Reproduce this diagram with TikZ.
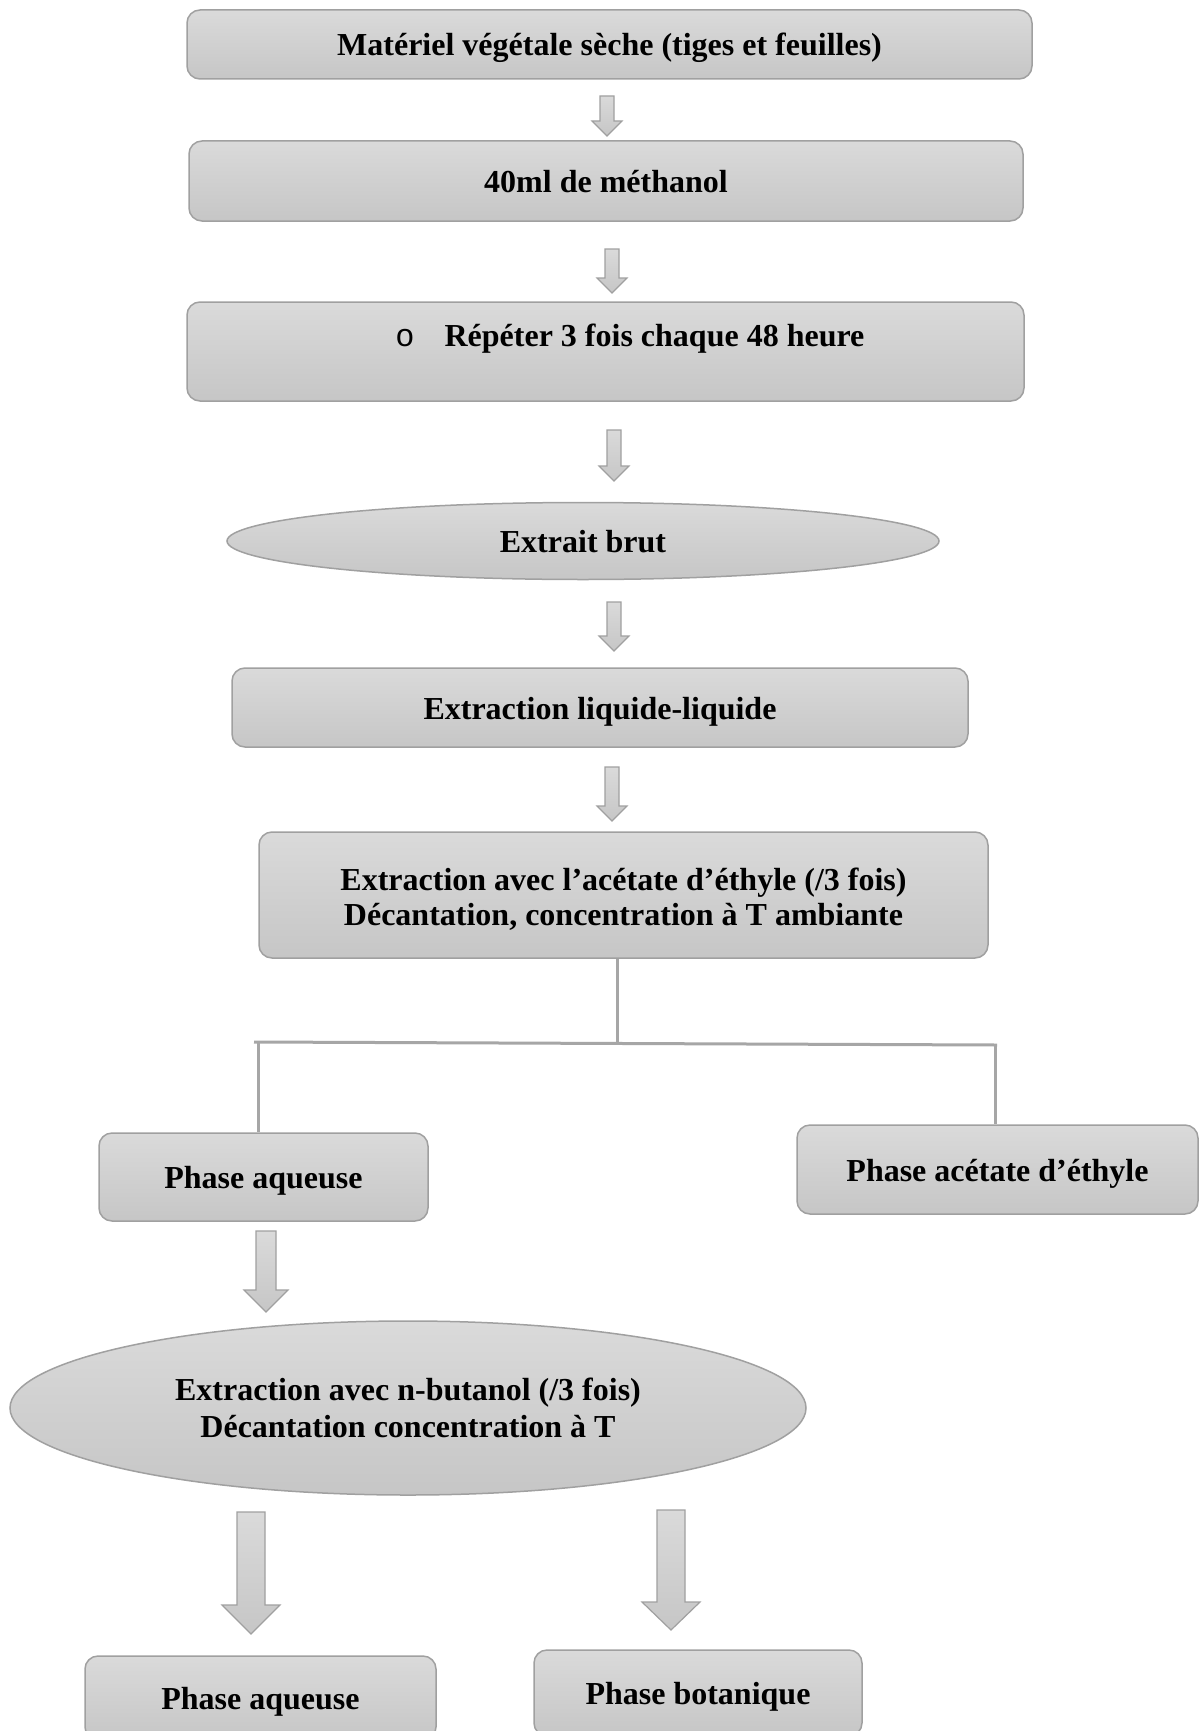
\documentclass[tikz,border=0pt]{standalone}
\usepackage{fontspec}
\setmainfont{Liberation Serif}
\newfontfamily\bulletfont{Liberation Mono}
\usetikzlibrary{shapes.geometric}
\definecolor{edgegray}{RGB}{160,160,160}
\definecolor{linegray}{RGB}{166,166,166}
\definecolor{topfill}{RGB}{218,218,218}
\definecolor{botfill}{RGB}{198,198,198}
\tikzset{
  boxsty/.style={draw=edgegray, line width=1.5pt, rounded corners=13pt, top color=topfill, bottom color=botfill, inner sep=0pt, font=\bfseries\fontsize{32}{36}\selectfont},
  ovalsty/.style={ellipse, draw=edgegray, line width=1.5pt, top color=topfill, bottom color=botfill, inner sep=0pt, font=\bfseries\fontsize{32}{36}\selectfont},
  oneline/.style={text height=30pt, text depth=7pt},
  txtsty/.style={inner sep=0pt, oneline, font=\bfseries\fontsize{32}{36}\selectfont},
  arrowsty/.style={draw=edgegray, line width=1.2pt, top color=topfill, bottom color=botfill, line join=miter},
  linksty/.style={draw=linegray, line width=3pt}
}
\newcommand\barrow[6]{%
  \path[arrowsty] ({#1-#5/2},#2) -- ({#1+#5/2},#2) -- ({#1+#5/2},#3) -- ({#1+#6/2},#3) -- (#1,#4) -- ({#1-#6/2},#3) -- ({#1-#5/2},#3) -- cycle;}
\newcommand\twolines[4]{% shift, baselineskip, line1, line2
  \raisebox{-#1}[\height][\depth]{\fontsize{32}{#2}\selectfont\begin{tabular}{@{}c@{}}#3\\#4\end{tabular}}}
\begin{document}
\begin{tikzpicture}[x=1pt,y=-1pt]
\useasboundingbox (0,0) rectangle (1201,1731);
\clip (0,0) rectangle (1201,1731);
\fill[white] (0,0) rectangle (1201,1731);

\node[boxsty, oneline, minimum width=845pt, minimum height=69pt] (b1) at (609.5,44.5) {Matériel végétale sèche (tiges et feuilles)};
\node[boxsty, oneline, minimum width=834pt, minimum height=80pt] (b2) at (606,181) {40ml de méthanol};
\node[boxsty, minimum width=837pt, minimum height=99pt] (b3) at (605.5,351.5) {};
\node[inner sep=0pt, oneline, font=\bulletfont\fontsize{32}{36}\selectfont] (b3o) at (405,335) {o};
\node[txtsty] (b3t) at (654.5,335) {Répéter 3 fois chaque 48 heure};
\node[ovalsty, oneline, minimum width=712pt, minimum height=77pt] (e1) at (583,541) {Extrait brut};
\node[boxsty, oneline, minimum width=736pt, minimum height=79pt] (b5) at (600,707.5) {Extraction liquide-liquide};
\node[boxsty, minimum width=729pt, minimum height=126pt] (b6) at (623.5,895) {\twolines{6pt}{35}{Extraction avec l’acétate d’éthyle (/3 fois)}{Décantation, concentration à T ambiante}};
\node[boxsty, oneline, minimum width=329pt, minimum height=88pt] (b7) at (263.5,1177) {Phase aqueuse};
\node[boxsty, oneline, minimum width=401pt, minimum height=89pt] (b8) at (997.5,1169.5) {Phase acétate d’éthyle};
\node[ovalsty, minimum width=796pt, minimum height=174pt] (e2) at (408,1408) {\twolines{4pt}{37}{Extraction avec n-butanol (/3 fois)}{Décantation concentration à T}};
\node[boxsty, oneline, minimum width=351pt, minimum height=84pt] (b9) at (260.5,1698) {Phase aqueuse};
\node[boxsty, oneline, minimum width=328pt, minimum height=86pt] (b10) at (698,1693) {Phase botanique};

% block arrows
\barrow{607}{96}{121}{136}{14}{30}
\barrow{612}{249}{278}{293}{14}{30}
\barrow{614}{430}{466}{481}{14}{30}
\barrow{614}{602}{636}{651}{14}{30}
\barrow{612}{767}{806}{821}{14}{30}
\barrow{266}{1231}{1290}{1312}{20}{44}
\barrow{251}{1512}{1605}{1634}{28}{58}
\barrow{671}{1510}{1602}{1630}{28}{58}

% branch connectors
\coordinate (hm) at (617,1043);
\coordinate (hl) at (254,1042);
\coordinate (hr) at (997,1045);
\coordinate (vl) at (258,1042);
\coordinate (vr) at (995,1045);
\draw[linksty] (b6.south -| hm) -- (hm);
\draw[linksty] (hl) -- (hr);
\draw[linksty] (vl) -- (vl |- b7.north);
\draw[linksty] (vr) -- (vr |- b8.north);
\end{tikzpicture}
\end{document}
